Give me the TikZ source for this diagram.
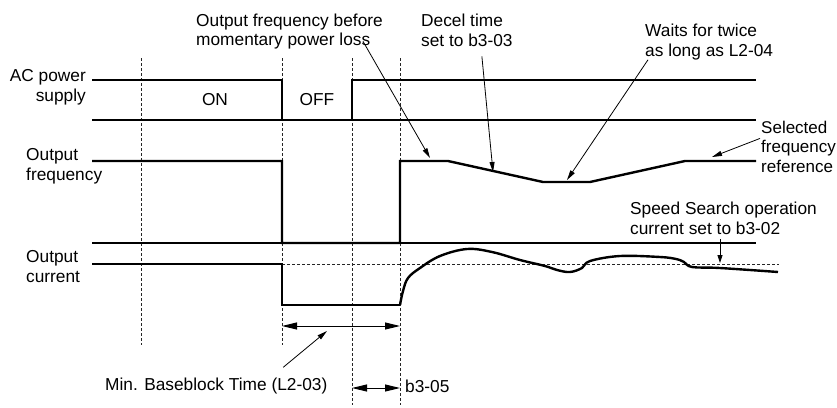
\documentclass[tikz,border=0pt]{standalone}
\usepackage{fontspec}
\setmainfont{Liberation Sans}
\usetikzlibrary{arrows.meta,positioning}

\begin{document}
\begin{tikzpicture}[x=1pt, y=-1pt, font=\fontsize{17.3}{19.5}\selectfont, >=Triangle]
  \tikzset{wave/.style={line width=2.4pt, line join=miter},
    axis/.style={line width=1.1pt},
    grid/.style={line width=1pt, black!85, dash pattern=on 3pt off 2pt},
    lead/.style={line width=0.8pt, -{Triangle[length=10pt,width=5pt]}},
    span/.style={line width=1pt, {Triangle[length=15pt,width=7pt]}-{Triangle[length=15pt,width=7pt]}},
    lbl/.style={inner sep=0pt, align=left}}
  \useasboundingbox (0,0) rectangle (837,407);
  % time marks
  \foreach \x/\y in {141/345, 282/345, 352/405, 400/405}
    \draw[grid] (\x,58) -- (\x,\y);
  % base lines
  \draw[axis] (92,120) -- (756,120);
  \draw[axis] (92,243) -- (756,243);
  \draw[grid] (282,264) -- (779,264);
  % waveforms
  \draw[wave] (92,80) -- (282,80) -- (282,120) -- (352,120) -- (352,80) -- (756,80);
  \draw[wave] (92,161) -- (282,161) -- (282,243) -- (400,243) -- (400,161) -- (448,161)
    -- (543,182) -- (590,182) -- (685,161) -- (756,161);
  \draw[wave] (92,264) -- (282,264) -- (282,305) -- (400,305);
  \draw[wave] plot[smooth, tension=0.6] coordinates {(400,305) (403,291) (408,278) (420,268)
    (440,256) (467,249) (492,252) (520,260) (545,266) (557,270) (570,272) (582,268) (590,261)
    (620,256) (660,257) (676,259) (684,262) (692,267) (720,268) (778,272)};
  % labels (base = last line)
  \node[lbl, align=right, anchor=base east] (acsupply) at (86,101) {AC power\\supply};
  \node[lbl, anchor=base] (onlabel) at (215,105) {ON};
  \node[lbl, anchor=base] (offlabel) at (317,105) {OFF};
  \node[lbl, anchor=base west] (outfreq) at (26,180) {Output\\frequency};
  \node[lbl, anchor=base west] (outcur) at (26,282) {Output\\current};
  \node[lbl, anchor=base west] (fbefore) at (196,45.5) {Output frequency before\\momentary power loss};
  \node[lbl, anchor=base west] (decel) at (421,46) {Decel time\\set to b3-03};
  \node[lbl, anchor=base west] (waits) at (645,56) {Waits for twice\\as long as L2-04};
  \node[lbl, anchor=base west, font=\fontsize{17}{19.5}\selectfont] (selref) at (761,172) {Selected\\frequency\\reference};
  \node[lbl, anchor=base west] (speed) at (630,234) {Speed Search operation\\current set to b3-02};
  \node[lbl, anchor=base west] (minbb) at (105,390) {Min. Baseblock Time (L2-03)};
  \node[lbl, anchor=base west] (b305) at (405,392) {b3-05};
  % leader ends
  \coordinate (fbtip) at (430,158);
  \coordinate (deceltip) at (493,172);
  \coordinate (waittip) at (567,180);
  \coordinate (seltip) at (712,157);
  \coordinate (speedtip) at (720,263);
  \coordinate (bbtip) at (327,331);
  \coordinate (bbL) at (282,326);
  \coordinate (bbR) at (400,326);
  \coordinate (b5L) at (352,388);
  \coordinate (b5R) at (400,388);
  \draw[lead] ([xshift=-20pt,yshift=8pt]fbefore.south east) -- (fbtip);
  \draw[lead] ([xshift=15pt,yshift=-10pt]decel.south) -- (deceltip);
  \draw[lead] ([xshift=3pt]waits.south west) -- (waittip);
  \draw[lead] ([xshift=-1pt,yshift=8pt]selref.west) -- (seltip);
  \draw[lead, -{Triangle[length=8pt,width=5pt]}] ([xshift=90pt,yshift=-5pt]speed.south west) -- (speedtip);
  \draw[lead] ([xshift=67pt,yshift=10pt]minbb.north) -- (bbtip);
  \draw[span] (bbL) -- (bbR);
  \draw[span] (b5L) -- (b5R);
\end{tikzpicture}
\end{document}
